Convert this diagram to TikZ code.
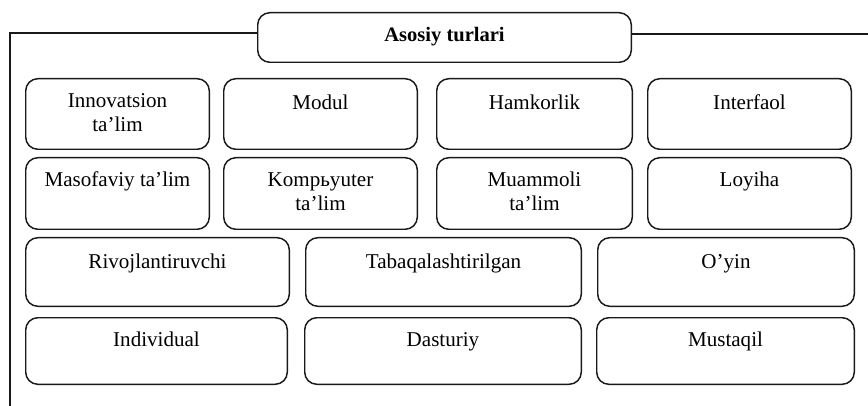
\documentclass[tikz,border=0pt]{standalone}
\usepackage{fontspec}
\setmainfont{Liberation Serif}
\begin{document}
\begin{tikzpicture}[x=0.75pt,y=-0.75pt,
  frame/.style={line width=1.1pt,draw=black!90},
  bx/.style 2 args={draw=black!90,line width=1.1pt,rounded corners=9pt,
     minimum width=#1*0.75pt-1.1pt,minimum height=#2*0.75pt-1.1pt,inner sep=0pt},
  lbl/.style={anchor=base,inner sep=0pt,align=center,
     font=\fontsize{15.8pt}{18pt}\selectfont},
  ttl/.style={anchor=base,inner sep=0pt,font=\fontsize{15.4pt}{18pt}\selectfont\bfseries}]
\useasboundingbox (0,0) rectangle (868,406);
% title
\node[bx={375}{51}] (title) at (444.5,37.5) {};
\node[ttl] (titlet) at (444.5,42) {Asosiy turlari};
% frame
\coordinate (fBL) at (10,406);
\coordinate (fTL) at (10,33);
\coordinate (fTR) at (868,34);
\draw[frame] (fBL) -- (fTL) -- (fTL -| title.west);
\draw[frame] (title.east |- fTR) -- (fTR);
% row 1
\node[bx={185}{72}] (r1a) at (117.5,114) {};
\node[bx={195}{72}] (r1b) at (320.5,114) {};
\node[bx={197}{72}] (r1c) at (534.5,114) {};
\node[bx={205}{72}] (r1d) at (749.5,114) {};
\node[lbl] (r1at) at (117.5,132) {Innovatsion\\ta’lim};
\node[lbl] (r1bt) at (320.5,110) {Modul};
\node[lbl] (r1ct) at (534.5,110) {Hamkorlik};
\node[lbl] (r1dt) at (749.5,110) {Interfaol};
% row 2
\node[bx={185}{73}] (r2a) at (117.5,193.5) {};
\node[bx={195}{73}] (r2b) at (320.5,193.5) {};
\node[bx={197}{73}] (r2c) at (534.5,193.5) {};
\node[bx={205}{73}] (r2d) at (749.5,193.5) {};
\node[lbl] (r2at) at (117.5,187) {Masofaviy ta’lim};
\node[lbl] (r2bt) at (320.5,211) {Kompьyuter\\ta’lim};
\node[lbl] (r2ct) at (534.5,211) {Muammoli\\ta’lim};
\node[lbl] (r2dt) at (749.5,187) {Loyiha};
% row 3
\node[bx={265}{70}] (r3a) at (157.5,272) {};
\node[bx={277}{70}] (r3b) at (443.5,272) {};
\node[bx={258}{70}] (r3c) at (726,272) {};
\node[lbl] (r3at) at (157.5,268) {Rivojlantiruvchi};
\node[lbl] (r3bt) at (443.5,268) {Tabaqalashtirilgan};
\node[lbl] (r3ct) at (726,268) {O’yin};
% row 4
\node[bx={263}{68}] (r4a) at (156.5,351) {};
\node[bx={278}{68}] (r4b) at (443,351) {};
\node[bx={259}{68}] (r4c) at (725.5,351) {};
\node[lbl] (r4at) at (156.5,346) {Individual};
\node[lbl] (r4bt) at (443,346) {Dasturiy};
\node[lbl] (r4ct) at (725.5,346) {Mustaqil};
\end{tikzpicture}
\end{document}
